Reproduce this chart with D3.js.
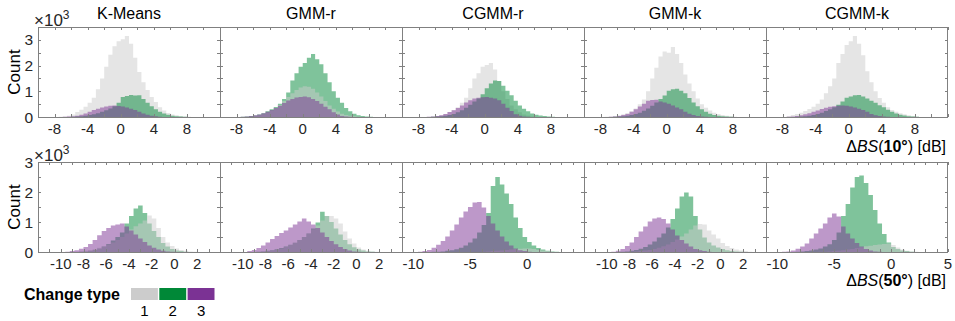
<!DOCTYPE html>
<html><head><meta charset="utf-8">
<script src="https://cdn.jsdelivr.net/npm/d3@7/dist/d3.min.js"></script>
<style>
body{margin:0;background:#fff}
svg{display:block}
text{font-family:"Liberation Sans",Arial,Helvetica,sans-serif}
</style>
</head><body>
<svg id="chart" width="955" height="321"></svg>
<script>
// ---------- categories ----------
const methods = ["K-Means","GMM-r","CGMM-r","GMM-k","CGMM-k"];
const changeTypes = ["1","2","3"];
const typeColors = ["#cccccc","#008837","#7b3294"];

// ---------- bins ----------
const topBinStart = -7.5, topBinWidth = 0.5;   // ΔBS(10°)
const botBinStart = -9.6, botBinWidth = 0.4;   // ΔBS(50°)

// ---------- ΔBS(10°) histogram counts (×10^3) ----------
const km10_t1 = [0.01,0.02,0.05,0.10,0.19,0.28,0.40,0.55,0.75,1.08,1.50,1.95,2.42,2.75,2.95,3.02,3.15,2.85,2.30,1.75,1.35,1.05,0.78,0.58,0.38,0.25,0.16,0.10,0.07,0.04,0.02,0.01];
const km10_t2 = [0,0,0,0.01,0.02,0.03,0.05,0.08,0.11,0.15,0.20,0.26,0.33,0.42,0.55,0.78,0.82,0.86,0.84,0.85,0.70,0.55,0.42,0.30,0.20,0.14,0.09,0.05,0.03,0.02,0.01,0];
const km10_t3 = [0,0.01,0.02,0.03,0.05,0.09,0.14,0.20,0.27,0.32,0.37,0.41,0.44,0.45,0.43,0.41,0.37,0.32,0.27,0.20,0.14,0.09,0.05,0.03,0.01,0,0,0,0,0,0,0];

const gr10_t1 = [0,0.01,0.02,0.04,0.07,0.11,0.17,0.25,0.35,0.47,0.62,0.78,0.92,1.05,1.15,1.20,1.18,1.10,0.95,0.80,0.62,0.45,0.32,0.21,0.13,0.08,0.05,0.03,0.01,0,0,0];
const gr10_t2 = [0.01,0.02,0.04,0.06,0.10,0.15,0.22,0.30,0.39,0.52,0.70,0.95,1.42,1.70,1.95,2.10,2.30,2.45,2.25,2.05,1.70,1.35,1.00,0.75,0.55,0.35,0.22,0.13,0.07,0.04,0.02,0.01];
const gr10_t3 = [0.01,0.02,0.04,0.07,0.10,0.15,0.20,0.27,0.35,0.44,0.54,0.64,0.70,0.76,0.78,0.80,0.77,0.70,0.62,0.52,0.40,0.30,0.18,0.10,0.04,0.02,0.01,0,0,0,0,0];

const cgr10_t1 = [0,0.01,0.02,0.04,0.07,0.12,0.19,0.27,0.38,0.55,0.75,1.12,1.50,1.70,1.95,2.02,2.10,1.85,1.40,1.00,0.70,0.45,0.30,0.18,0.10,0.06,0.03,0.01,0,0,0,0];
const cgr10_t2 = [0,0,0.01,0.02,0.03,0.05,0.08,0.12,0.18,0.26,0.36,0.48,0.60,0.72,0.88,1.12,1.30,1.42,1.40,1.22,1.02,0.85,0.63,0.45,0.32,0.22,0.14,0.09,0.06,0.04,0.02,0.01];
const cgr10_t3 = [0,0.01,0.02,0.04,0.07,0.12,0.19,0.26,0.35,0.45,0.56,0.65,0.72,0.75,0.77,0.78,0.75,0.72,0.65,0.52,0.36,0.23,0.11,0.05,0.02,0.01,0,0,0,0,0,0];

const gk10_t1 = [0.01,0.02,0.04,0.07,0.11,0.16,0.22,0.33,0.50,0.68,1.00,1.50,1.92,2.35,2.55,2.50,2.72,2.45,2.10,1.65,1.30,1.00,0.72,0.50,0.36,0.25,0.17,0.12,0.08,0.05,0.03,0.01];
const gk10_t2 = [0,0,0.01,0.02,0.03,0.05,0.08,0.12,0.17,0.24,0.33,0.44,0.56,0.70,0.84,1.02,1.08,1.10,1.02,0.92,0.74,0.56,0.42,0.30,0.20,0.13,0.08,0.05,0.03,0.02,0.01,0];
const gk10_t3 = [0,0.01,0.02,0.04,0.08,0.12,0.20,0.30,0.41,0.52,0.63,0.66,0.67,0.60,0.56,0.52,0.45,0.37,0.30,0.20,0.13,0.08,0.04,0.02,0.01,0,0,0,0,0,0,0];

const cgk10_t1 = [0.04,0.08,0.12,0.17,0.23,0.31,0.40,0.52,0.68,0.92,1.20,1.50,2.10,2.45,2.80,2.95,3.15,2.85,2.40,1.78,1.35,1.00,0.74,0.55,0.38,0.27,0.20,0.15,0.11,0.07,0.04,0.02];
const cgk10_t2 = [0,0,0.01,0.02,0.03,0.05,0.08,0.12,0.17,0.23,0.30,0.38,0.48,0.60,0.75,0.80,0.85,0.86,0.80,0.72,0.63,0.55,0.46,0.38,0.28,0.20,0.14,0.09,0.06,0.03,0.02,0.01];
const cgk10_t3 = [0.01,0.02,0.04,0.07,0.11,0.15,0.20,0.25,0.31,0.36,0.40,0.42,0.44,0.45,0.44,0.41,0.37,0.32,0.27,0.20,0.12,0.07,0.04,0.02,0.01,0,0,0,0,0,0,0];

// ---------- ΔBS(50°) histogram counts (×10^3) ----------
const km50_t1 = [0,0.01,0.02,0.03,0.05,0.07,0.10,0.14,0.19,0.25,0.32,0.40,0.50,0.62,0.75,0.86,0.95,1.05,1.22,1.12,0.80,0.50,0.32,0.20,0.12,0.07,0.04,0.02,0.01,0,0];
const km50_t2 = [0,0,0,0.01,0.02,0.04,0.07,0.12,0.18,0.27,0.38,0.50,0.65,0.95,1.20,1.45,1.55,1.30,0.95,0.70,0.50,0.30,0.18,0.10,0.05,0.03,0.01,0,0,0,0];
const km50_t3 = [0.01,0.03,0.06,0.11,0.17,0.27,0.40,0.56,0.70,0.80,0.88,0.92,0.95,0.85,0.72,0.58,0.45,0.33,0.22,0.14,0.08,0.04,0.02,0.01,0,0,0,0,0,0,0];

const gr50_t1 = [0,0,0.01,0.02,0.03,0.05,0.08,0.12,0.17,0.23,0.31,0.40,0.50,0.62,0.75,0.88,1.05,1.20,1.20,1.12,0.95,0.68,0.45,0.28,0.15,0.08,0.04,0.02,0.01,0,0];
const gr50_t2 = [0,0,0.01,0.02,0.04,0.06,0.09,0.13,0.18,0.24,0.31,0.40,0.50,0.62,0.78,0.98,1.34,1.20,1.00,0.78,0.58,0.40,0.26,0.16,0.09,0.05,0.02,0.01,0,0,0];
const gr50_t3 = [0.03,0.07,0.13,0.22,0.32,0.43,0.53,0.63,0.72,0.82,0.92,1.02,1.12,1.02,0.92,0.80,0.65,0.50,0.37,0.26,0.17,0.10,0.05,0.02,0.01,0,0,0,0,0,0];

const cgr50_t1 = [0,0,0,0,0,0,0,0,0,0,0,0,0,0,0.01,0.02,0.03,0.04,0.05,0.07,0.08,0.10,0.11,0.12,0.12,0.10,0.07,0.05,0.03,0.01,0];
const cgr50_t2 = [0,0,0,0.01,0.01,0.02,0.04,0.06,0.09,0.14,0.22,0.32,0.45,0.65,0.90,1.30,2.20,2.50,2.25,1.95,1.60,1.15,0.80,0.50,0.33,0.22,0.13,0.08,0.04,0.02,0.01];
const cgr50_t3 = [0.01,0.03,0.07,0.14,0.24,0.37,0.52,0.72,0.92,1.15,1.35,1.50,1.65,1.67,1.48,1.20,0.95,0.72,0.52,0.35,0.22,0.12,0.06,0.03,0.01,0,0,0,0,0,0];

const gk50_t1 = [0,0,0,0.01,0.01,0.02,0.03,0.05,0.07,0.10,0.14,0.19,0.25,0.33,0.42,0.52,0.62,0.75,0.88,0.93,0.92,0.72,0.58,0.45,0.30,0.20,0.13,0.08,0.05,0.03,0.01];
const gk50_t2 = [0,0,0.01,0.02,0.04,0.07,0.11,0.17,0.25,0.35,0.48,0.62,0.82,1.10,1.45,1.85,1.98,1.85,1.20,0.75,0.48,0.32,0.22,0.15,0.10,0.06,0.03,0.02,0.01,0,0];
const gk50_t3 = [0.01,0.04,0.10,0.20,0.32,0.50,0.68,0.85,1.02,1.12,1.15,1.10,0.95,0.75,0.55,0.40,0.28,0.18,0.10,0.06,0.03,0.01,0,0,0,0,0,0,0,0,0];

const cgk50_t1 = [0,0,0,0,0,0,0,0,0.01,0.01,0.02,0.03,0.04,0.06,0.08,0.10,0.13,0.16,0.19,0.21,0.23,0.25,0.27,0.28,0.23,0.15,0.08,0.04,0.02,0.01,0];
const cgk50_t2 = [0,0,0,0.01,0.02,0.03,0.05,0.08,0.12,0.18,0.26,0.40,0.65,1.20,1.60,2.15,2.50,2.55,2.30,1.90,1.40,0.95,0.60,0.32,0.17,0.10,0.05,0.03,0.01,0,0];
const cgk50_t3 = [0.01,0.02,0.05,0.11,0.18,0.28,0.45,0.62,0.78,0.95,1.15,1.28,1.18,0.85,0.62,0.45,0.30,0.18,0.10,0.05,0.02,0.01,0,0,0,0,0,0,0,0,0];

// ---------- axis domains and tick labels ----------
const topXDomain = [-10, 12];
const topXTicks = [-8,-4,0,4,8];
const topYDomain = [0, 3.5];
const topYTicks = [0,1,2,3];
const botXDomainA = [-12, 4];
const botXTicksA = [-10,-8,-6,-4,-2,0,2];
const botXDomainB = [-11, 5];
const botXTicksB3 = [-10,-5,0];
const botXTicksB5 = [-10,-5,0,5];
const botYDomain = [0, 3];
const botYTicks = [0,1,2,3];

// ---------- tables built from the arrays ----------
const topSeries = [
  [km10_t1,km10_t2,km10_t3],[gr10_t1,gr10_t2,gr10_t3],[cgr10_t1,cgr10_t2,cgr10_t3],
  [gk10_t1,gk10_t2,gk10_t3],[cgk10_t1,cgk10_t2,cgk10_t3]];
const botSeries = [
  [km50_t1,km50_t2,km50_t3],[gr50_t1,gr50_t2,gr50_t3],[cgr50_t1,cgr50_t2,cgr50_t3],
  [gk50_t1,gk50_t2,gk50_t3],[cgk50_t1,cgk50_t2,cgk50_t3]];
const botDomains = [botXDomainA,botXDomainA,botXDomainB,botXDomainA,botXDomainB];
const botTicks = [botXTicksA,botXTicksA,botXTicksB3,botXTicksA,botXTicksB5];
// stacking order of the translucent histograms (index into change types)
const topOrder = [[0,1,2],[1,0,2],[0,1,2],[0,1,2],[0,1,2]];
const botOrder = [[1,0,2],[1,0,2],[1,0,2],[1,0,2],[1,0,2]];

// ---------- layout ----------
const svg = d3.select("#chart");
const panelLeft = 38, panelW = 182;
const rows = [
  {top:27, bottom:117, series:topSeries, domains:methods.map(()=>topXDomain), ticks:methods.map(()=>topXTicks),
   yDomain:topYDomain, yTicks:topYTicks, binStart:topBinStart, binW:topBinWidth, xMinorStep:2, order:topOrder},
  {top:162, bottom:252, series:botSeries, domains:botDomains, ticks:botTicks,
   yDomain:botYDomain, yTicks:botYTicks, binStart:botBinStart, binW:botBinWidth, xMinorStep:1, order:botOrder}
];
const frameColor = "#808080";
const textColor = "#262626";
const alpha = 0.5;

const defs = svg.append("defs");

rows.forEach((row, ri) => {
  const y = d3.scaleLinear().domain(row.yDomain).range([row.bottom, row.top]);
  methods.forEach((m, pi) => {
    const x0 = panelLeft + pi*panelW, x1 = x0 + panelW;
    const x = d3.scaleLinear().domain(row.domains[pi]).range([x0, x1]);
    const clipId = `clip-${ri}-${pi}`;
    defs.append("clipPath").attr("id", clipId).append("rect")
      .attr("x", x0).attr("y", row.top).attr("width", panelW).attr("height", row.bottom-row.top);
    const g = svg.append("g").attr("clip-path", `url(#${clipId})`);
    row.order[pi].forEach(ti => {
      const vals = row.series[pi][ti];
      const pts = [];
      vals.forEach((v, i) => {
        const a = row.binStart + i*row.binW;
        pts.push({x:a, y:v}); pts.push({x:a+row.binW, y:v});
      });
      const area = d3.area().x(d=>x(d.x)).y0(y(0)).y1(d=>y(d.y));
      g.append("path").attr("d", area(pts))
        .attr("fill", typeColors[ti]).attr("fill-opacity", alpha).attr("stroke","none");
    });
    // ticks (inward) on all sides
    const tk = svg.append("g").attr("stroke", frameColor).attr("stroke-width", 1);
    const dom = row.domains[pi];
    const minor = d3.range(Math.ceil(dom[0]/row.xMinorStep)*row.xMinorStep, dom[1]+1e-9, row.xMinorStep);
    minor.forEach(t => {
      const px = Math.round(x(t)) + 0.5;
      tk.append("line").attr("x1",px).attr("x2",px).attr("y1",row.bottom).attr("y2",row.bottom-3);
      tk.append("line").attr("x1",px).attr("x2",px).attr("y1",row.top).attr("y2",row.top+3);
    });
    d3.range(row.yDomain[0], row.yDomain[1]+1e-9, 0.5).forEach(t => {
      const py = Math.round(y(t)) + 0.5;
      tk.append("line").attr("x1",x0).attr("x2",x0+3).attr("y1",py).attr("y2",py);
      tk.append("line").attr("x1",x1).attr("x2",x1-3).attr("y1",py).attr("y2",py);
    });
    // frame
    svg.append("rect").attr("x", x0+0.5).attr("y", row.top+0.5)
      .attr("width", panelW-1+ (pi===4?0:1)).attr("height", row.bottom-row.top)
      .attr("fill","none").attr("stroke", frameColor).attr("stroke-width",1);
    // x tick labels
    row.ticks[pi].forEach(t => {
      svg.append("text").attr("x", x(t)).attr("y", row.bottom+17)
        .attr("text-anchor","middle").attr("font-size",15).attr("fill",textColor)
        .text(t < 0 ? "-" + Math.abs(t) : String(t));
    });
    // titles on top row
    if (ri === 0) {
      svg.append("text").attr("x", (x0+x1)/2).attr("y", 19)
        .attr("text-anchor","middle").attr("font-size",16).attr("fill","#000").text(m);
    }
    // y tick labels on first panel
    if (pi === 0) {
      row.yTicks.forEach(t => {
        svg.append("text").attr("x", x0-5).attr("y", y(t)+5.5)
          .attr("text-anchor","end").attr("font-size",15.5).attr("fill",textColor).text(t);
      });
      svg.append("text").attr("transform", `translate(20,${(row.top+row.bottom)/2}) rotate(-90)`)
        .attr("text-anchor","middle").attr("font-size",17).attr("fill","#000").text("Count");
      const ex = svg.append("text").attr("x", 34).attr("y", row.top - 1.5)
        .attr("font-size",17).attr("fill",textColor);
      ex.append("tspan").text("×10");
      ex.append("tspan").attr("font-size",12).attr("dy",-7).text("3");
    }
  });
});

// x-axis labels
function xLabel(yb, deg) {
  const t = svg.append("text").attr("x", 946).attr("y", yb).attr("text-anchor","end")
    .attr("font-size",16).attr("fill","#000");
  t.append("tspan").text("Δ");
  t.append("tspan").attr("font-style","italic").text("BS");
  t.append("tspan").text("(");
  t.append("tspan").attr("font-weight","bold").text(deg + "°");
  t.append("tspan").text(") [dB]");
}
xLabel(151.5, "10");
xLabel(286, "50");

// legend
svg.append("text").attr("x", 24).attr("y", 299.5).attr("font-size",16)
  .attr("font-weight","bold").attr("fill","#000").text("Change type");
const legX = d3.scaleBand().domain(changeTypes).range([131, 214.5]).paddingInner(0.05);
changeTypes.forEach((c, i) => {
  svg.append("rect").attr("x", legX(c)).attr("y", 288).attr("width", legX.bandwidth()).attr("height", 12)
    .attr("fill", typeColors[i]);
  svg.append("text").attr("x", legX(c)+legX.bandwidth()/2).attr("y", 316)
    .attr("text-anchor","middle").attr("font-size",15).attr("fill","#000").text(c);
});
</script>
</body></html>
